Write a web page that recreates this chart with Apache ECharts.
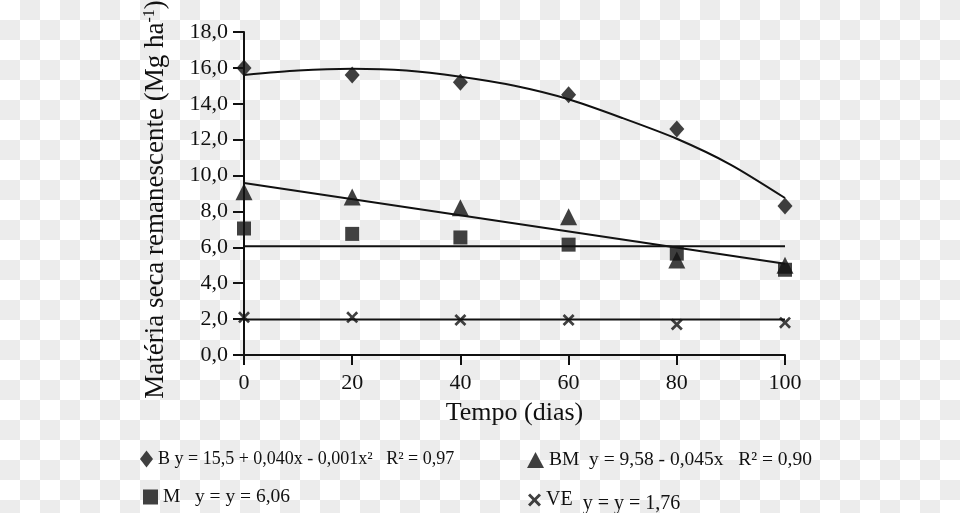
<!DOCTYPE html>
<html><head><meta charset="utf-8">
<script src="https://cdn.jsdelivr.net/npm/echarts@6/dist/echarts.min.js"></script>
<style>
html,body{margin:0;padding:0;}
body{width:960px;height:513px;background-color:#fff;
background-image:conic-gradient(#ececec 0 25%, #fff 0 50%, #ececec 0 75%, #fff 0);
background-size:40px 40px;}
#c{width:960px;height:513px;}
</style></head>
<body><div id="c"></div>
<script>
// Observed data (Tempo, dias)
const days = [0, 20, 40, 60, 80, 100];
const bVals  = [16.0, 15.6, 15.2, 14.5, 12.6, 8.3];
const bmVals = [9.1, 8.8, 8.2, 7.7, 5.3, 5.0];
const mVals  = [7.05, 6.75, 6.55, 6.15, 5.65, 4.75];
const veVals = [2.1, 2.1, 1.95, 1.95, 1.7, 1.8];
// Fitted curves
const bFitX = [0, 10, 20, 30, 40, 50, 60, 70, 80, 90, 100];
const bFitY = [15.6, 15.85, 15.95, 15.85, 15.5, 15.0, 14.25, 13.2, 12.05, 10.6, 8.75];
const lineX = [0, 100];
const bmFitY = [9.58, 5.08];
const mFitY = [6.06, 6.06];
const veFitY = [1.98, 1.98];
// Axis ticks
const yTicks = [0, 2, 4, 6, 8, 10, 12, 14, 16, 18];
const xTicks = [0, 20, 40, 60, 80, 100];
// Legend texts
const legendText = {
  'B': 'B y = 15,5 + 0,040x - 0,001x\u00b2   R\u00b2 = 0,97',
  'BM': 'BM  y = 9,58 - 0,045x   R\u00b2 = 0,90',
  'M': 'M   y = y = 6,06',
  'VE': 'VE  {e|y = y = 1,76}'
};

const pair = (xs, ys) => xs.map((x, i) => [x, ys[i]]);
const ink = '#111';
const serif = '"Liberation Serif", "DejaVu Serif", serif';
const crossPath = 'path://M0,1.6L1.6,0L5,3.4L8.4,0L10,1.6L6.6,5L10,8.4L8.4,10L5,6.6L1.6,10L0,8.4L3.4,5Z';

const chart = echarts.init(document.getElementById('c'), null, {renderer: 'canvas'});

function legend(name, icon, left, top, w, h, fs) {
  return {
    data: [{name: name, icon: icon}],
    left: left, top: top, orient: 'horizontal',
    itemWidth: w, itemHeight: h, padding: 0,
    selectedMode: false,
    formatter: n => legendText[n],
    textStyle: {fontFamily: serif, fontSize: fs, color: ink,
      rich: {e: {fontFamily: serif, fontSize: fs, color: ink, padding: [8, 0, 0, 0]}}}
  };
}

const option = {
  animation: false,
  backgroundColor: 'transparent',
  grid: {left: 244, right: 175, top: 32, bottom: 158, containLabel: false, outerBoundsMode: 'none'},
  xAxis: {
    type: 'value', min: 0, max: 100, interval: 20,
    name: 'Tempo (dias)', nameLocation: 'middle', nameGap: 45,
    nameTextStyle: {fontFamily: serif, fontSize: 26, color: ink},
    axisLine: {show: true, onZero: false, lineStyle: {color: ink, width: 2}},
    axisTick: {show: true, inside: false, length: 10, lineStyle: {color: ink, width: 2}},
    axisLabel: {fontFamily: serif, fontSize: 22, color: ink, margin: 17,
      formatter: v => xTicks.includes(v) ? String(v) : ''},
    splitLine: {show: false}
  },
  yAxis: {
    type: 'value', min: 0, max: 18, interval: 2,
    name: 'Matéria seca remanescente (Mg ha{s|-1})',
    nameLocation: 'middle', nameGap: 74, nameRotate: 90,
    nameTextStyle: {fontFamily: serif, fontSize: 27, color: ink, padding: [0, 12, 0, 0],
      rich: {s: {fontFamily: serif, fontSize: 16, color: ink, verticalAlign: 'top', padding: [0, 0, 12, 0]}}},
    axisLine: {show: true, lineStyle: {color: ink, width: 2}},
    axisTick: {show: true, inside: false, length: 11, lineStyle: {color: ink, width: 2}},
    axisLabel: {fontFamily: serif, fontSize: 22, color: ink, margin: 16,
      formatter: v => yTicks.includes(v) ? v.toFixed(1).replace('.', ',') : ''},
    splitLine: {show: false}
  },
  legend: [
    legend('B', 'diamond', 140, 450, 13, 17, 18),
    legend('BM', 'triangle', 527, 450, 17, 16, 19.5),
    legend('M', 'rect', 143, 487, 15, 15, 19.5),
    legend('VE', crossPath, 528, 490, 13, 13, 20)
  ],
  series: [
    {type: 'line', data: pair(bFitX, bFitY), symbol: 'none', smooth: 0.25, lineStyle: {color: ink, width: 2}, z: 2},
    {type: 'line', data: pair(lineX, bmFitY), symbol: 'none', lineStyle: {color: ink, width: 2}, z: 2},
    {type: 'line', data: pair(lineX, mFitY), symbol: 'none', lineStyle: {color: ink, width: 2}, z: 2},
    {type: 'line', data: pair(lineX, veFitY), symbol: 'none', lineStyle: {color: ink, width: 2}, z: 2},
    {type: 'scatter', name: 'B', symbol: 'diamond', symbolSize: [15, 17], data: pair(days, bVals), itemStyle: {color: ink}, z: 5},
    {type: 'scatter', name: 'BM', symbol: 'triangle', symbolSize: [17, 17], data: pair(days, bmVals), itemStyle: {color: ink}, z: 4},
    {type: 'scatter', name: 'M', symbol: 'rect', symbolSize: 14, data: pair(days, mVals), itemStyle: {color: ink}, z: 5},
    {type: 'scatter', name: 'VE', symbol: crossPath, symbolSize: 12, data: pair(days, veVals), itemStyle: {color: ink}, z: 5}
  ]
};
chart.setOption(option);
</script>
</body></html>
